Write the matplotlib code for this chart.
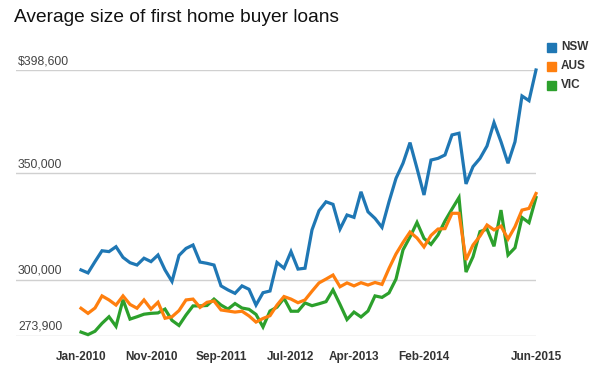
import matplotlib
matplotlib.use('Agg')
import matplotlib.pyplot as plt
from matplotlib.patches import Rectangle
from matplotlib.transforms import blended_transform_factory, offset_copy

plt.rcParams['font.family'] = ['Liberation Sans', 'DejaVu Sans']

# monthly, Jan-2010 .. Jun-2015 (66 months)
months = list(range(66))
nsw = [304700, 303300, 308600, 313700, 313300, 315600, 310600, 308100, 307000, 310200,
       308600, 311700, 304700, 299300, 311500, 314800, 316400, 308400, 307800, 307000,
       297200, 295300, 293700, 297200, 295600, 288200, 294000, 294800, 308200, 305500,
       313300, 305100, 305500, 323500, 332500, 336700, 335500, 323900, 330500, 329400,
       341400, 332000, 328900, 324700, 336700, 347700, 354800, 364500, 352400, 339900,
       356300, 357100, 358700, 368100, 368900, 345100, 353200, 357100, 362900, 373900,
       364900, 354800, 364900, 386400, 384200, 398600]
aus = [286700, 284300, 286800, 292500, 290600, 288200, 292500, 288500, 286700, 290600,
       286300, 289500, 282000, 282700, 285600, 290600, 291000, 287100, 289500, 290100,
       285900, 285400, 284900, 285300, 283100, 280200, 281900, 283200, 288200, 292200,
       291000, 289300, 290600, 294700, 298600, 300400, 302300, 296800, 298600, 297200,
       298700, 297600, 298800, 297900, 305400, 312200, 317600, 322500, 319700, 315500,
       320900, 323900, 324100, 331300, 331300, 309400, 316400, 320600, 325800, 323500,
       325300, 319200, 325000, 332800, 333600, 340600]
vic = [275500, 274300, 275900, 279600, 282700, 278200, 290700, 281600, 282700, 283900,
       284300, 284500, 286300, 281000, 278600, 283500, 287800, 287800, 288000, 291000,
       288200, 286300, 288900, 286800, 286200, 283800, 277900, 285400, 287200, 291400,
       285300, 285300, 289200, 287900, 288800, 289800, 295300, 288500, 281400, 284900,
       282600, 285400, 292500, 291800, 293900, 300400, 314100, 320200, 327000, 319500,
       316700, 321100, 327700, 333300, 338700, 303700, 310900, 322700, 323900, 315800,
       332800, 311700, 315100, 329300, 326900, 338700]

series = [('NSW', nsw, '#1f77b4'), ('AUS', aus, '#ff7f0e'), ('VIC', vic, '#2ca02c')]

tick_pos = [0, 10, 20, 30, 39, 49, 65]
tick_labels = ['Jan-2010', 'Nov-2010', 'Sep-2011', 'Jul-2012', 'Apr-2013', 'Feb-2014', 'Jun-2015']
grid_vals = [273900, 300000, 350000, 398600]
grid_labels = ['273,900', '300,000', '350,000', '$398,600']

fig = plt.figure(figsize=(6, 3.72), dpi=100)
ax = fig.add_axes([16 / 600, 36.5 / 372, 520 / 600, 265.5 / 372])

for v in grid_vals:
    ax.axhline(v, color='#d0d0d0', linewidth=1, zorder=1)

# draw in reverse so NSW ends up on top
for name, vals, color in series[::-1]:
    ax.plot(months, vals, color=color, linewidth=2.3, clip_on=False, zorder=3,
            solid_joinstyle='miter')

ax.set_xlim(-65 / 7, 65)
ax.set_ylim(273900, 398600)
for s in ax.spines.values():
    s.set_visible(False)
ax.set_yticks([])
ax.set_xticks(tick_pos)
ax.set_xticklabels(tick_labels, fontsize=8.5, fontweight='bold', color='#333333')
ax.tick_params(axis='x', length=0, pad=11)

trans = offset_copy(blended_transform_factory(ax.transAxes, ax.transData),
                    fig=fig, x=2, y=3, units='dots')
for v, lab in zip(grid_vals, grid_labels):
    ax.text(0, v, lab, transform=trans, ha='left', va='bottom',
            fontsize=8.8, color='#444444')

fig.text(14 / 600, 1 - 17 / 372, 'Average size of first home buyer loans',
         fontsize=13.8, color='#111111', ha='left', va='center')

# legend, top right
for k, (name, vals, color) in enumerate(series):
    yc = 47 + 19 * k
    fig.patches.append(Rectangle((547 / 600, 1 - (yc + 4.5) / 372), 9 / 600, 9 / 372,
                                 transform=fig.transFigure, color=color))
    fig.text(561 / 600, 1 - yc / 372, name, fontsize=8.5, fontweight='bold',
             color='#333333', ha='left', va='center')

fig.savefig('out.png', dpi=100)
